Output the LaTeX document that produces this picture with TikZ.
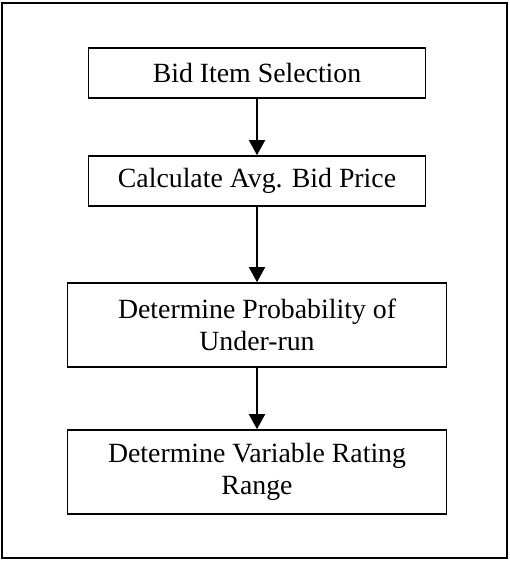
\documentclass[tikz,border=0pt]{standalone}
\usepackage{fontspec}
\setmainfont{Liberation Serif}
\usetikzlibrary{arrows.meta}
\begin{document}
\begin{tikzpicture}[x=1pt,y=-1pt,
  stepbox/.style={draw,line width=1.6pt,inner sep=0pt,align=center,
    font=\fontsize{27.8}{32}\selectfont},
  flow/.style={line width=1.6pt,-{Triangle[length=15pt,width=16pt]}}]
\useasboundingbox (0,0) rectangle (510,561);
\draw[line width=2.4pt] (2,3) rectangle (507,558);
\node[stepbox,minimum width=337pt,minimum height=50pt] (a) at (257,73) {Bid Item Selection};
\node[stepbox,minimum width=337pt,minimum height=50pt] (b) at (257,181) {Calculate Avg. Bid Price};
\node[stepbox,minimum width=379pt,minimum height=84pt] (c) at (257,325) {Determine Probability of\\Under-run};
\node[stepbox,minimum width=379pt,minimum height=84pt] (d) at (257,472) {Determine Variable Rating\\Range};
\draw[flow] (a.south) -- (b.north);
\draw[flow] (b.south) -- (c.north);
\draw[flow] (c.south) -- (d.north);
\end{tikzpicture}
\end{document}
